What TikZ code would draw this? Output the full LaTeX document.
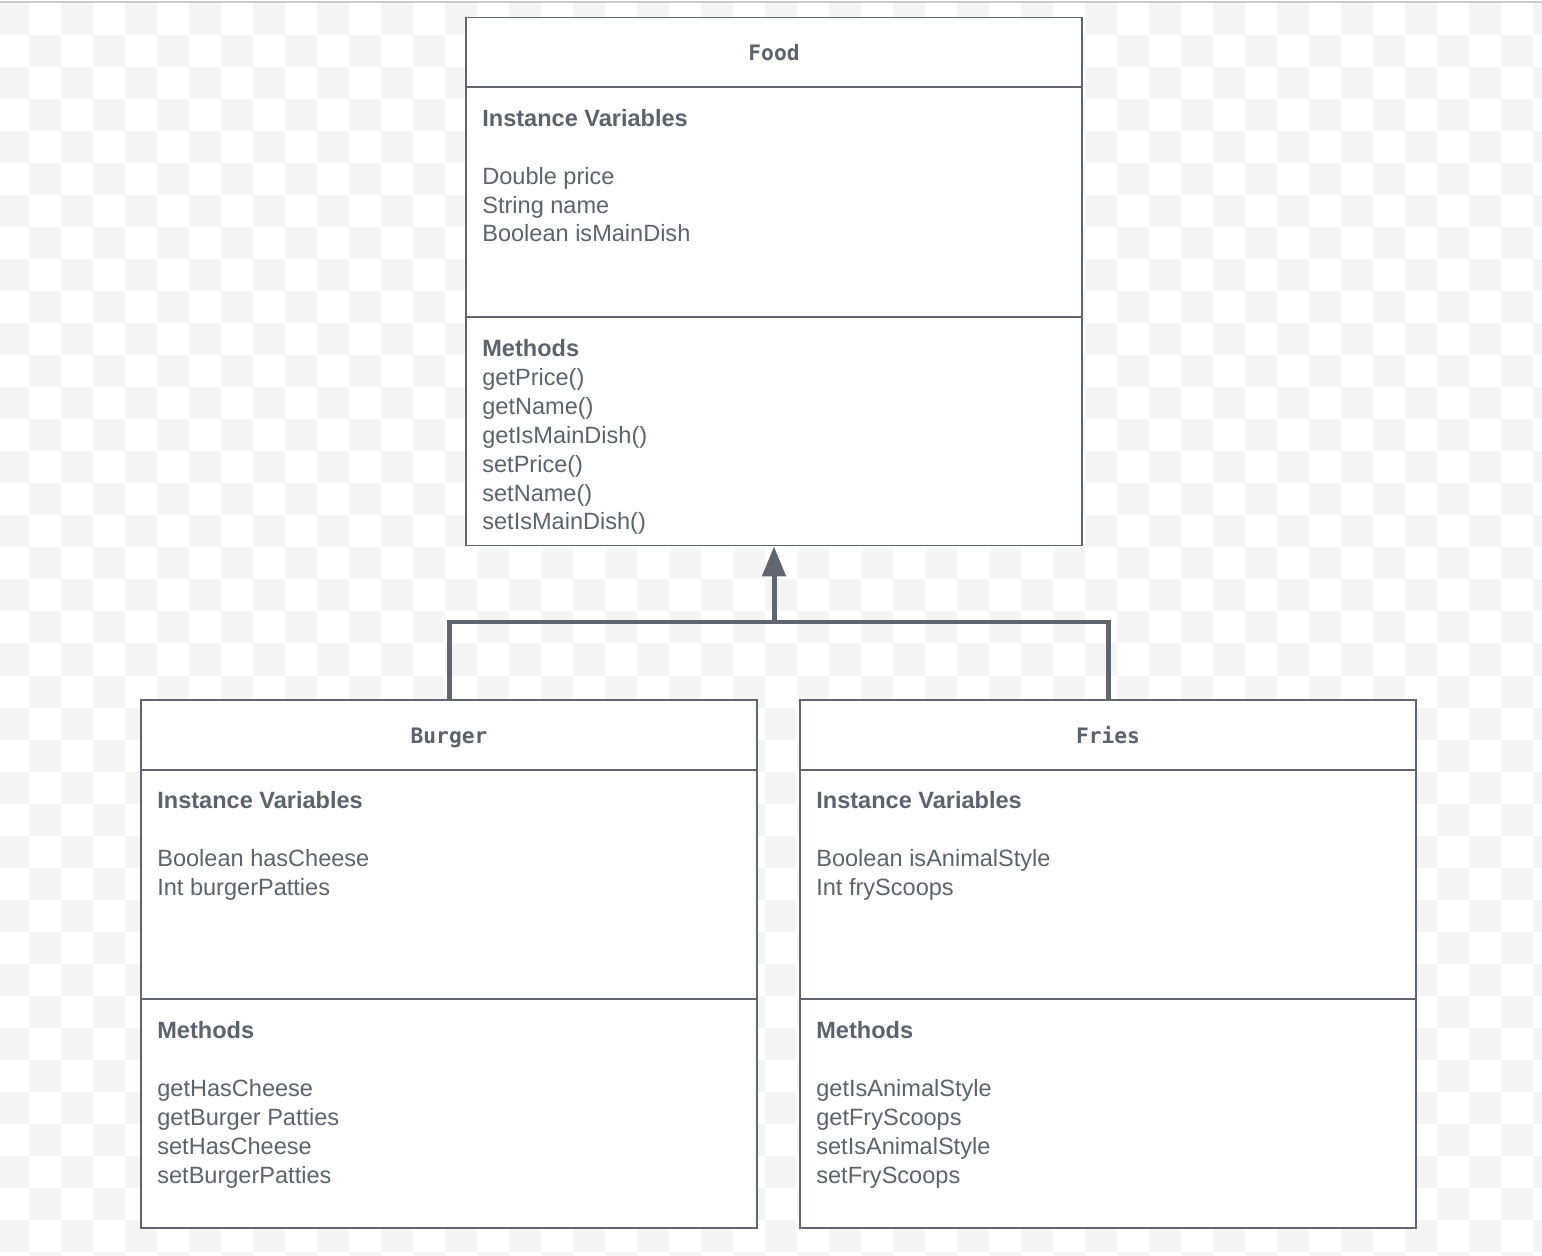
\documentclass[tikz,border=0pt]{standalone}
\usepackage{fontspec}
\setmainfont{Liberation Sans}
\setmonofont{DejaVu Sans Mono}
\usetikzlibrary{arrows.meta}
\definecolor{umlline}{RGB}{95,102,112}
\definecolor{umltext}{RGB}{92,99,109}
\definecolor{checker}{RGB}{245,245,245}
\definecolor{frameline}{RGB}{204,204,204}

\tikzset{
  classbox/.style={draw=umlline, fill=white, line width=0.03cm, rectangle,
    minimum width=12.32cm, minimum height=10.57cm, inner sep=0pt},
  divider/.style={draw=umlline, line width=0.03cm},
  classname/.style={anchor=base, inner sep=0pt, text=umltext,
    font=\ttfamily\bfseries\fontsize{12.1}{14}\selectfont},
  % base = baseline of the last line
  members/.style={anchor=base west, align=left, inner sep=0pt, text=umltext,
    font=\fontsize{13.4}{16.5}\selectfont},
  inherit/.style={draw=umlline, line width=0.1cm}
}

\begin{document}
\begin{tikzpicture}[x=0.02cm,y=-0.02cm]
\useasboundingbox (0,0) rectangle (1542,1256);
% background pattern
\begin{scope}
\clip (0,3) rectangle (1542,1256);
\foreach \i in {0,...,48} {
  \foreach \j in {0,...,39} {
    \pgfmathparse{int(mod(\i+\j,2))}
    \ifnum\pgfmathresult=0 \fill[checker] (-3+32*\i,3.5+32*\j) rectangle ++(32,32); \fi
  }
}
\end{scope}
\draw[frameline,line width=0.04cm] (0,2) -- (1542,2);

% classes
\node[classbox] (food) at (774,281.5) {};
\node[classbox] (burger) at (449,964) {};
\node[classbox] (fries) at (1108,964) {};

\draw[divider] (food.west |- 0,87) -- (food.east |- 0,87);
\draw[divider] (food.west |- 0,317) -- (food.east |- 0,317);
\draw[divider] (burger.west |- 0,770) -- (burger.east |- 0,770);
\draw[divider] (burger.west |- 0,999) -- (burger.east |- 0,999);
\draw[divider] (fries.west |- 0,770) -- (fries.east |- 0,770);
\draw[divider] (fries.west |- 0,999) -- (fries.east |- 0,999);

\node[classname] (foodname) at (774,60.5) {Food};
\node[classname] (burgername) at (449,743) {Burger};
\node[classname] (friesname) at (1108,743) {Fries};

\node[members] (foodvars) at (482,242) {\textbf{Instance Variables}\\[16.5pt]
  Double price\\ String name\\ Boolean isMainDish};
\node[members] (foodmethods) at (482,530) {\textbf{Methods}\\
  getPrice()\\ getName()\\ getIsMainDish()\\ setPrice()\\ setName()\\ setIsMainDish()};

\node[members] (burgervars) at (157,895.5) {\textbf{Instance Variables}\\[16.5pt]
  Boolean hasCheese\\ Int burgerPatties};
\node[members] (burgermethods) at (157,1183.5) {\textbf{Methods}\\[16.5pt]
  getHasCheese\\ getBurger Patties\\ setHasCheese\\ setBurgerPatties};

\node[members] (friesvars) at (816,895.5) {\textbf{Instance Variables}\\[16.5pt]
  Boolean isAnimalStyle\\ Int fryScoops};
\node[members] (friesmethods) at (816,1183.5) {\textbf{Methods}\\[16.5pt]
  getIsAnimalStyle\\ getFryScoops\\ setIsAnimalStyle\\ setFryScoops};

% inheritance
\coordinate (joint) at (food.south |- 0,622);
\draw[inherit] (burger.north) |- (joint) -| (fries.north);
\draw[inherit,-{Triangle[length=0.6cm,width=0.46cm]}] (joint) -- (food.south);
\end{tikzpicture}
\end{document}
